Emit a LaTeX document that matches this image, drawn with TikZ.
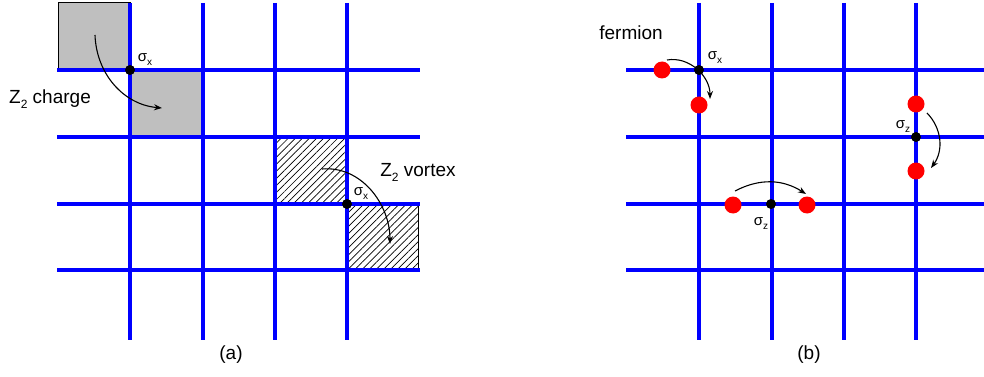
\documentclass[tikz,border=0pt]{standalone}
\usepackage{fontspec}
\setmainfont{Liberation Sans}
\usetikzlibrary{positioning,arrows.meta,patterns.meta}
\newcommand{\lowsub}[2]{#1\raisebox{-#2}{\fontsize{12}{13}\selectfont 2}}
\newcommand{\spin}[1]{σ\raisebox{-4pt}{\fontsize{10}{11}\selectfont #1}}
\tikzset{
  >=Stealth,
  bond/.style={blue, line width=4pt},
  site/.style={circle, fill=black, inner sep=0pt, minimum size=10pt},
  fermion/.style={circle, fill=red, inner sep=0pt, minimum size=17pt},
  charge/.style={draw=black, line width=1pt, fill=black!25},
  vortex/.style={draw=black, line width=1pt, pattern={Lines[angle=45,distance=5pt,line width=0.7pt]}},
  hop/.style={->, line width=1.1pt, >={Stealth[length=8pt,width=6pt]}},
  lab/.style={font=\fontsize{19}{22}\selectfont},
  op/.style={font=\fontsize{15}{16}\selectfont, inner sep=0pt},
}

\begin{document}
\begin{tikzpicture}[x=1pt, y=-1pt]
\useasboundingbox (0,0) rectangle (984,377);

% (a) plaquettes
\draw[charge] (58,3) rectangle (130,70);
\draw[charge] (130,70) rectangle (203,137);
\draw[vortex] (275,137) rectangle (347,204);
\draw[vortex] (347,204) rectangle (418,270);

% lattices
\foreach \dx in {0,569} {
  \foreach \y in {70,137,204,270}
    \draw[bond] (57+\dx,\y) -- (420+\dx,\y);
  \foreach \x in {130,203,275,347}
    \draw[bond] (\x+\dx,3) -- (\x+\dx,340);
}

% (a)
\node[site] (sa) at (130,70) {};
\node[site] (sb) at (347,204) {};
\node[op] (opa) at (145,60) {\spin{x}};
\node[op] (opb) at (361,194) {\spin{x}};
\node[lab] (zc) at (50,99) {\lowsub{Z}{5pt} charge};
\node[lab] (zv) at (418,172) {\lowsub{Z}{5pt} vortex};
\coordinate (ca1) at (95,35);
\coordinate (ca2) at (162,108);
\coordinate (va1) at (322,169);
\coordinate (va2) at (390,244);
\draw[hop] (ca1) to[out=-88,in=175] (ca2);
\draw[hop] (va1) to[out=5,in=90] (va2);
\node[lab] (pa) at (231,355) {(a)};

% (b)
\node[fermion] (f1) at (662,70) {};
\node[fermion] (f2) at (699,105) {};
\node[fermion] (f3) at (733,205) {};
\node[fermion] (f4) at (807,205) {};
\node[fermion] (f5) at (916,104) {};
\node[fermion] (f6) at (916,171) {};
\node[site] (sc) at (699,70) {};
\node[site] (sd) at (771,204) {};
\node[site] (se) at (916,137) {};
\node[op] (opc) at (715,58) {\spin{x}};
\node[op] (opd) at (761,224) {\spin{z}};
\node[op] (ope) at (903,127) {\spin{z}};
\node[lab] (fm) at (631,33) {fermion};
\coordinate (h1) at (667,60);
\coordinate (h2) at (710,99);
\coordinate (h3) at (735,191);
\coordinate (h4) at (806,194);
\coordinate (h5) at (927,113);
\coordinate (h6) at (931,168);
\draw[hop] (h1) to[out=10,in=90] (h2);
\draw[hop] (h3) to[bend left=30] (h4);
\draw[hop] (h5) to[bend left=40] (h6);
\node[lab] (pb) at (809,355) {(b)};

\end{tikzpicture}
\end{document}
